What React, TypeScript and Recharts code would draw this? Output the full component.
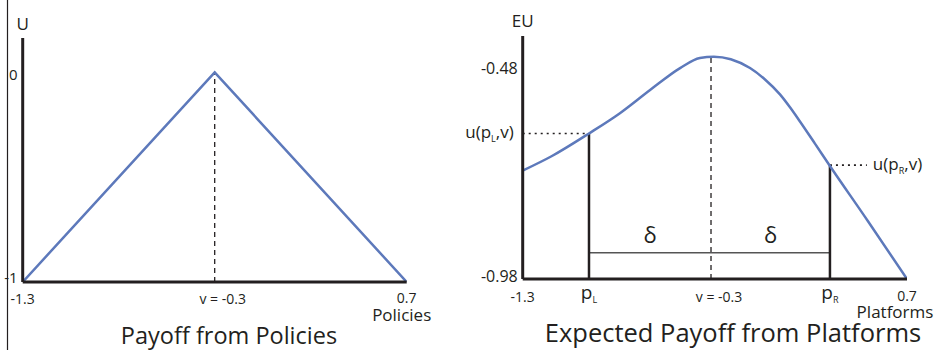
import { Line, LineChart, ReferenceDot, ReferenceLine, XAxis, YAxis } from "recharts";

const FONT = "'Open Sans', 'Noto Sans', sans-serif";
const INK = "#231f20";
const CURVE = "#5d79bb";

// Payoff from Policies
const policyX = [-1.3, -0.3, 0.7];
const policyU = [-1, 0, -1];
const policyXTicks = [-1.3, -0.3, 0.7];
const policyXLabels = ["-1.3", "v = -0.3", "0.7"];
const policyUTicks = [0, -1];
const policyULabels = ["0", "-1"];
const policyVoter = -0.3;

// Expected Payoff from Platforms
const platformX = [-1.3, -1.15, -0.955, -0.794, -0.637, -0.481, -0.378, -0.305, -0.217, -0.117, -0.039, 0.04, 0.091, 0.142, 0.221, 0.299, 0.497, 0.7];
const platformEU = [-0.723, -0.689, -0.635, -0.587, -0.532, -0.48, -0.456, -0.453, -0.459, -0.48, -0.507, -0.543, -0.573, -0.606, -0.659, -0.712, -0.843, -0.98];
const pL = -0.955;
const pR = 0.299;
const voterPos = -0.32;
const uL = -0.635;
const uR = -0.71;
const euPeak = -0.453;
const deltaY = -0.918;
const dotREnd = 0.491;
const platformXTicks = [-1.3, pL, voterPos, pR, 0.7];
const platformXLabels = ["-1.3", "pL", "v = -0.3", "pR", "0.7"];
const platformEUTicks = [-0.48, -0.98];
const platformEULabels = ["-0.48", "-0.98"];

const policyData = policyX.map((x, i) => ({ x, u: policyU[i] }));
const platformData = platformX.map((x, i) => ({ x, eu: platformEU[i] }));

function makeXTick(ticks: number[], labels: string[], baseDy: number) {
  return (props: any) => {
    const label = labels[ticks.indexOf(props.payload.value)] ?? "";
    const sub = label.match(/^p([LR])$/);
    if (sub) {
      return (
        <text x={props.x} y={props.y + baseDy - 3} textAnchor="middle" fontFamily={FONT} fontSize={19} fill={INK}>
          <tspan>p</tspan>
          <tspan fontSize={9} dy={4}>{sub[1]}</tspan>
        </text>
      );
    }
    const dx = label.startsWith("v") ? 8 : 0;
    const up = label === "0.7" ? 1 : 0;
    return (
      <text x={props.x + dx} y={props.y + baseDy - up} textAnchor="middle" fontFamily={FONT} fontSize={14} fill={INK}>
        {label}
      </text>
    );
  };
}

function makeYTick(ticks: number[], labels: string[], fontSize: number, dyFor: (v: number) => number) {
  return (props: any) => {
    const v = props.payload.value;
    return (
      <text x={props.x - 5} y={props.y + dyFor(v)} textAnchor="end" fontFamily={FONT} fontSize={fontSize} fill={INK}>
        {labels[ticks.indexOf(v)] ?? ""}
      </text>
    );
  };
}

function axisName(text: string, dx: number, dy: number) {
  return (props: any) => {
    const { x, y, width } = props.viewBox;
    return (
      <text x={x + width + dx} y={y + dy} textAnchor="middle" fontFamily={FONT} fontSize={17} fill={INK}>
        {text}
      </text>
    );
  };
}

function yName(text: string, dy: number) {
  return (props: any) => {
    const { x, y, width } = props.viewBox;
    return (
      <text x={x + width} y={y + dy} textAnchor="middle" fontFamily={FONT} fontSize={17} fill={INK}>
        {text}
      </text>
    );
  };
}

function payoffLabel(sub: string, side: "left" | "right") {
  return (props: any) => {
    const { x, y } = props.viewBox;
    return (
      <text
        x={side === "left" ? x - 9 : x + 6}
        y={y + 5}
        textAnchor={side === "left" ? "end" : "start"}
        fontFamily={FONT}
        fontSize={17}
        fill={INK}
      >
        <tspan>u(p</tspan>
        <tspan fontSize={9} dy={4}>{sub}</tspan>
        <tspan dy={-4}>,v)</tspan>
      </text>
    );
  };
}

function deltaLabel(props: any) {
  const { x, y } = props.viewBox;
  return (
    <text x={x} y={y - 10} textAnchor="middle" fontFamily={FONT} fontSize={22} fill={INK}>
      δ
    </text>
  );
}

function PolicyChart() {
  return (
    <LineChart width={455} height={350} data={policyData} margin={{ top: 38, right: 48.3, bottom: 0, left: 0 }}>
      <XAxis
        type="number"
        dataKey="x"
        domain={[-1.3, 0.7]}
        allowDataOverflow
        ticks={policyXTicks}
        interval={0}
        height={68}
        tickSize={0}
        tickMargin={0}
        tickLine={false}
        axisLine={{ stroke: INK, strokeWidth: 3 }}
        tick={makeXTick(policyXTicks, policyXLabels, 22)}
        label={axisName("Policies", -5, 39)}
      />
      <YAxis
        type="number"
        domain={[-1, 0.164]}
        allowDataOverflow
        ticks={policyUTicks}
        interval={0}
        width={22.7}
        tickSize={0}
        tickMargin={0}
        tickLine={false}
        axisLine={{ stroke: INK, strokeWidth: 3 }}
        tick={makeYTick(policyUTicks, policyULabels, 15, (v) => (v === 0 ? 8 : 1))}
        label={yName("U", -8)}
      />
      <ReferenceLine
        segment={[{ x: policyVoter, y: -1 }, { x: policyVoter, y: 0 }]}
        stroke={INK}
        strokeWidth={1.3}
        strokeDasharray="5 4"
      />
      <Line type="linear" dataKey="u" stroke={CURVE} strokeWidth={2.5} dot={false} isAnimationActive={false} />
    </LineChart>
  );
}

function PlatformChart() {
  return (
    <LineChart width={482} height={350} data={platformData} margin={{ top: 36, right: 30, bottom: 0, left: 0 }}>
      <XAxis
        type="number"
        dataKey="x"
        domain={[-1.3, 0.7]}
        allowDataOverflow
        ticks={platformXTicks}
        interval={0}
        height={71}
        tickSize={0}
        tickMargin={0}
        tickLine={false}
        axisLine={{ stroke: INK, strokeWidth: 3 }}
        tick={makeXTick(platformXTicks, platformXLabels, 23)}
        label={axisName("Platforms", -12, 39)}
      />
      <YAxis
        type="number"
        domain={[-0.98, -0.404]}
        allowDataOverflow
        ticks={platformEUTicks}
        interval={0}
        width={67.7}
        tickSize={0}
        tickMargin={0}
        tickLine={false}
        axisLine={{ stroke: INK, strokeWidth: 3 }}
        tick={makeYTick(platformEUTicks, platformEULabels, 16, (v) => (v === -0.48 ? 6 : 3))}
        label={yName("EU", -9)}
      />
      <ReferenceLine
        segment={[{ x: voterPos, y: -0.98 }, { x: voterPos, y: euPeak }]}
        stroke={INK}
        strokeWidth={1.3}
        strokeDasharray="5 4"
      />
      <ReferenceLine segment={[{ x: pL, y: deltaY }, { x: pR, y: deltaY }]} stroke="#555" strokeWidth={1.5} />
      <ReferenceLine segment={[{ x: pL, y: -0.98 }, { x: pL, y: uL }]} stroke={INK} strokeWidth={2.5} />
      <ReferenceLine segment={[{ x: pR, y: -0.98 }, { x: pR, y: uR }]} stroke={INK} strokeWidth={2.5} />
      <ReferenceLine
        segment={[{ x: -1.3, y: uL }, { x: pL, y: uL }]}
        stroke={INK}
        strokeWidth={1.6}
        strokeDasharray="2 4"
      />
      <ReferenceLine
        segment={[{ x: pR, y: uR }, { x: dotREnd, y: uR }]}
        stroke={INK}
        strokeWidth={1.6}
        strokeDasharray="2 4"
      />
      <ReferenceDot x={-1.3} y={uL} r={0} fill="none" stroke="none" label={payoffLabel("L", "left")} />
      <ReferenceDot x={dotREnd} y={uR} r={0} fill="none" stroke="none" label={payoffLabel("R", "right")} />
      <ReferenceDot x={(pL + voterPos) / 2} y={deltaY} r={0} fill="none" stroke="none" label={deltaLabel} />
      <ReferenceDot x={(voterPos + pR) / 2} y={deltaY} r={0} fill="none" stroke="none" label={deltaLabel} />
      <Line type="monotone" dataKey="eu" stroke={CURVE} strokeWidth={2.5} dot={false} isAnimationActive={false} />
    </LineChart>
  );
}

export default function App() {
  return (
    <div style={{ position: "absolute", left: 0, top: 0, width: 937, height: 350, background: "#fff" }}>
      <div style={{ position: "absolute", left: 0, top: 0 }}>
        <PolicyChart />
      </div>
      <div style={{ position: "absolute", left: 455, top: 0 }}>
        <PlatformChart />
      </div>
      <svg width={937} height={350} style={{ position: "absolute", left: 0, top: 0, pointerEvents: "none" }}>
        <line x1={7.5} y1={0} x2={7.5} y2={350} stroke={INK} strokeWidth={1.2} />
        <text x={229} y={344} textAnchor="middle" fontFamily={FONT} fontSize={23.5} fill={INK}>
          Payoff from Policies
        </text>
        <text x={733} y={342} textAnchor="middle" fontFamily={FONT} fontSize={25.5} fill={INK}>
          Expected Payoff from Platforms
        </text>
      </svg>
    </div>
  );
}
